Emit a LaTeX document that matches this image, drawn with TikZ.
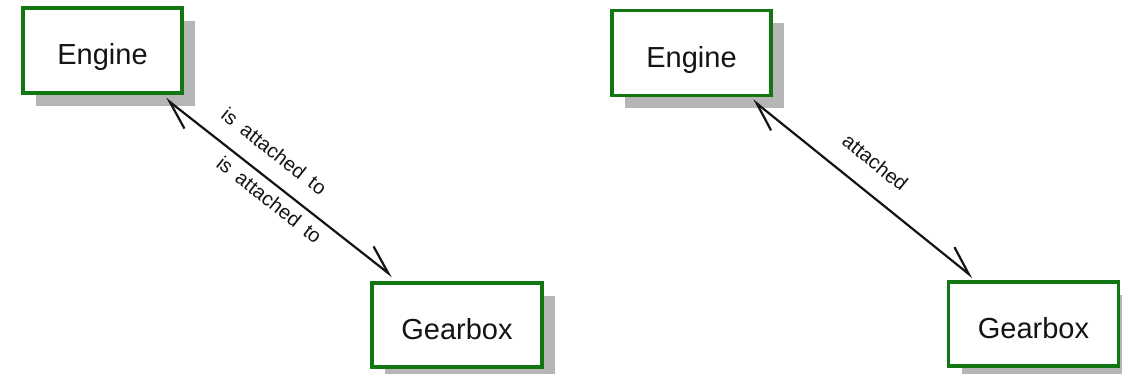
\documentclass[tikz,border=0pt]{standalone}
\usepackage{fontspec}
\setmainfont{Liberation Sans}
\usetikzlibrary{arrows.meta,shadows}
\definecolor{boxgreen}{RGB}{18,118,18}
\definecolor{shadowgray}{RGB}{182,182,182}
\definecolor{inkblack}{RGB}{20,20,20}
\newlength{\rolespace}
\setlength{\rolespace}{9.5pt}
\tikzset{
  classbox/.style={draw=boxgreen, line width=3.2pt, fill=white,
    font=\fontsize{29}{32}\selectfont, text=inkblack,
    text height=29pt, text depth=0pt, inner sep=0pt,
    drop shadow={shadow xshift=13pt, shadow yshift=-13pt, fill=shadowgray, opacity=1}},
  enginebox/.style={classbox, minimum width=159pt, minimum height=85pt},
  gearbox/.style={classbox, minimum width=170pt, minimum height=84pt},
  assoc/.style={line width=2.2pt, draw=inkblack,
    {Straight Barb[harpoon, length=28pt, width=24pt, line width=2.2pt]}-{Straight Barb[harpoon, length=28pt, width=24pt, line width=2.2pt]}},
  rolelabel/.style={sloped, inner sep=0pt, text=inkblack,
    font=\fontsize{20}{22}\selectfont,
    execute at begin node={\spaceskip=\rolespace\relax}}
}
\begin{document}
\begin{tikzpicture}[x=1pt, y=-1pt]
  \useasboundingbox (0,0) rectangle (1122,374);

  % left: two role names on one association
  \node[enginebox] (engA) at (102.5,50.5) {Engine};
  \node[gearbox]   (gearA) at (457,325) {Gearbox};
  \coordinate (engAend) at ([shift={(-18pt,-4pt)}]engA.south east);
  \coordinate (gearAend) at ([shift={(22pt,5pt)}]gearA.north west);
  \draw[assoc] (engAend) -- (gearAend)
    node[rolelabel, pos=0.41, above=17pt] (roleA1) {is attached to}
    node[rolelabel, pos=0.50, below=7pt] (roleA2) {is attached to};

  % right: a single association name
  \node[enginebox] (engB) at (691.5,53) {Engine};
  \node[gearbox]   (gearB) at (1033.5,324) {Gearbox};
  \coordinate (engBend) at ([shift={(-20pt,-3pt)}]engB.south east);
  \coordinate (gearBend) at ([shift={(26pt,3pt)}]gearB.north west);
  \draw[assoc] (engBend) -- (gearBend)
    node[rolelabel, pos=0.476, above=20pt] (assocB) {attached};
\end{tikzpicture}
\end{document}
